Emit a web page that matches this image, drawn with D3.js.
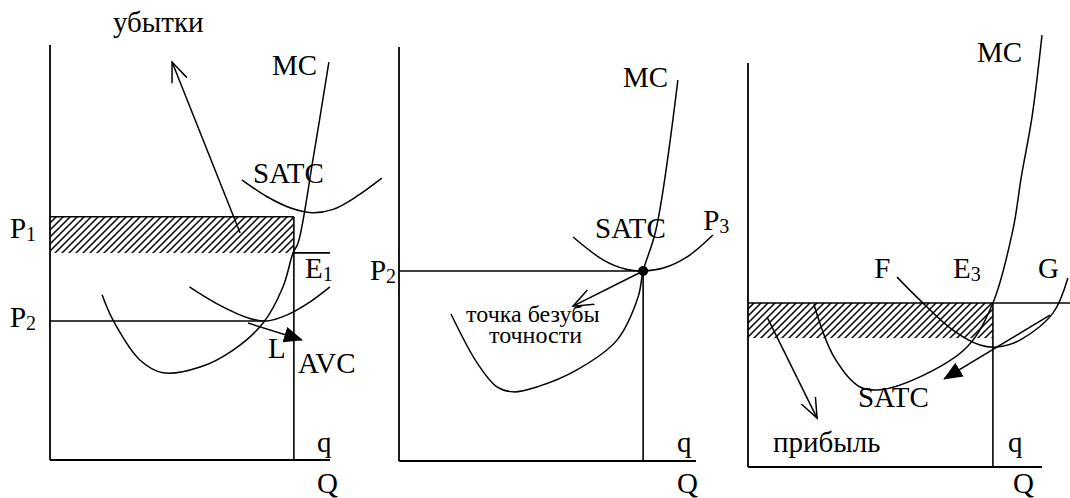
<!DOCTYPE html>
<html>
<head>
<meta charset="utf-8">
<script src="https://cdn.jsdelivr.net/npm/d3@7"></script>
<style>
  body { margin: 0; background: #fff; }
  svg { display: block; }
  text { font-family: "Liberation Serif", "Times New Roman", serif; font-size: 29px; fill: #000; }
  .sub { font-size: 20px; }
  .small { font-size: 24px; }
</style>
</head>
<body>
<svg width="1070" height="498"></svg>
<script>

  // DATA (units: q along x, price along y, 0..100 on each axis)

  // panel 1 - losses
  var p1MC = [[18.6, 39.8], [22.5, 33.7], [32.1, 24.1], [40.4, 21.0], [53.6, 22.4], [65.4, 26.5],
    [76.1, 33.0], [83.2, 41.7], [86.8, 49.9], [88.6, 52.3], [93.9, 72.3], [99.6, 95.9]];
  var p1SATC = [[68.5, 67.5], [77.4, 63.5], [85.7, 60.8], [93.5, 59.6], [101.1, 60.4], [109.5, 63.5], [118.5, 67.9]];
  var p1AVC = [[49.8, 41.7], [59.5, 37.7], [71.4, 34.1], [77.5, 33.5], [84.5, 34.9], [92.9, 38.1], [100, 41.7]];
  var p1Levels = { P1: 58.6, E1: 49.9, P2: 33.5, q: 87.1 };
  var p1LossArrow = [[67.9, 54.7], [43.6, 95.9]];
  var p1LArrow = [[70.7, 33.0], [90, 28.9]];

  // panel 2 - break-even
  var p2MC = [[17.5, 35.5], [26.3, 23.7], [33.0, 17.9], [38.4, 16.7], [46.5, 17.9], [59.9, 22.0],
    [73.4, 29.2], [80.5, 39.6], [82.2, 45.9], [86.5, 55.8], [93.9, 92.0]];
  var p2SATC = [[58.6, 54.1], [68.7, 48.6], [76.5, 46.3], [82.2, 45.9], [89.0, 46.6], [97.0, 49.3], [105.7, 54.6]];
  var p2Levels = { P2: 45.9, q: 82.2 };
  var p2Arrow = [[82.2, 45.9], [58.6, 37.4]];

  // panel 3 - profit
  var p3MC = [[22.4, 40.3], [29.3, 27.2], [38.1, 19.8], [44.9, 19.1], [58.5, 22.3], [74.5, 29.7],
    [83.3, 40.6], [90.1, 58.7], [93.0, 72.0], [96.6, 86.6], [100, 106.9]];
  var p3SATC = [[50.7, 47.0], [58.5, 41.3], [69.7, 33.9], [78.9, 30.2], [84.7, 29.7], [92.5, 31.4], [103.7, 38.1], [108.8, 46.8]];
  var p3Levels = { P: 40.6, low: 31.9, q: 83.3, right: 109.5 };
  var p3ProfitArrow = [[6.5, 37.1], [23.5, 12.1]];
  var p3SATCArrow = [[102.7, 37.6], [66.7, 21.8]];

  // labels: [text, subscript, x, y, class]
  var p1Labels = [["убытки", "", 22.5, 103.1], ["MC", "", 79.3, 92.8], ["SATC", "", 72.5, 66.7],
    ["P", "1", -14.3, 53.5], ["P", "2", -14.3, 32.0], ["E", "1", 91.1, 43.9], ["L", "", 77.9, 24.6],
    ["AVC", "", 88.6, 21.0], ["q", "", 95.4, 1.9], ["Q", "", 95.4, -7.9]];
  var p2Labels = [["MC", "", 75.4, 90.3], ["SATC", "", 66.0, 53.9], ["P", "3", 102.4, 55.8],
    ["P", "2", -9.8, 43.7], ["точка безубы", "", 22.6, 33.6, "small"], ["точности", "", 30.3, 28.5, "small"],
    ["q", "", 93.6, 2.2], ["Q", "", 93.6, -7.7]];
  var p3Labels = [["MC", "", 77.9, 100.2], ["F", "", 42.9, 46.8], ["E", "3", 69.7, 46.8], ["G", "", 98.6, 46.8],
    ["SATC", "", 37.4, 14.9], ["прибыль", "", 8.5, 3.7], ["q", "", 88.4, 3.7], ["Q", "", 90.1, -6.4]];

  // SETUP

  var svg = d3.select("svg");
  var defs = svg.append("defs");

  var hatch = defs.append("pattern")
    .attr("id", "hatch")
    .attr("patternUnits", "userSpaceOnUse")
    .attr("width", 7)
    .attr("height", 7);
  hatch.append("path")
    .attr("d", "M-1,8 L8,-1 M-4.5,4.5 L4.5,-4.5 M2.5,11.5 L11.5,2.5")
    .attr("stroke", "#000")
    .attr("stroke-width", 1.5);

  defs.append("marker")
    .attr("id", "open")
    .attr("viewBox", "0 -10 22 20")
    .attr("refX", 20).attr("refY", 0)
    .attr("markerWidth", 22).attr("markerHeight", 20)
    .attr("markerUnits", "userSpaceOnUse")
    .attr("orient", "auto")
    .append("path")
    .attr("d", "M0,-8 L20,0 L0,8")
    .attr("fill", "none")
    .attr("stroke", "#000")
    .attr("stroke-width", 1.5);

  defs.append("marker")
    .attr("id", "solid")
    .attr("viewBox", "0 -10 22 20")
    .attr("refX", 18).attr("refY", 0)
    .attr("markerWidth", 22).attr("markerHeight", 20)
    .attr("markerUnits", "userSpaceOnUse")
    .attr("orient", "auto")
    .append("path")
    .attr("d", "M0,-8 L19,0 L0,8 Z")
    .attr("fill", "#000");

  function makePanel(x0, x1, y0, y1) {
    return {
      x: d3.scaleLinear().domain([0, 100]).range([x0, x1]),
      y: d3.scaleLinear().domain([0, 100]).range([y0, y1])
    };
  }

  var panels = [makePanel(50, 330, 460, 45), makePanel(399, 696, 461, 47), makePanel(748, 1042, 467, 63)];

  // DRAWING

  function seg(g, p, a, b, w) {
    g.append("line")
      .attr("x1", p.x(a[0])).attr("y1", p.y(a[1]))
      .attr("x2", p.x(b[0])).attr("y2", p.y(b[1]))
      .attr("stroke", "#000")
      .attr("stroke-width", w || 1.6);
  }

  function curve(g, p, pts) {
    var line = d3.line()
      .x(function (d) { return p.x(d[0]); })
      .y(function (d) { return p.y(d[1]); })
      .curve(d3.curveCatmullRom.alpha(0.5));
    g.append("path")
      .attr("d", line(pts))
      .attr("fill", "none")
      .attr("stroke", "#000")
      .attr("stroke-width", 1.5);
  }

  function arrow(g, p, pts, kind) {
    g.append("line")
      .attr("x1", p.x(pts[0][0])).attr("y1", p.y(pts[0][1]))
      .attr("x2", p.x(pts[1][0])).attr("y2", p.y(pts[1][1]))
      .attr("stroke", "#000")
      .attr("stroke-width", 1.5)
      .attr("marker-end", "url(#" + kind + ")");
  }

  function labels(g, p, list) {
    list.forEach(function (d) {
      var t = g.append("text")
        .attr("x", p.x(d[2]))
        .attr("y", p.y(d[3]))
        .attr("class", d[4] || null);
      t.append("tspan").text(d[0]);
      if (d[1]) t.append("tspan").attr("class", "sub").attr("dy", 3).text(d[1]);
    });
  }

  function axes(g, p) {
    seg(g, p, [0, 0], [0, 100], 1.8);
    seg(g, p, [0, 0], [100, 0], 1.8);
  }

  // panel 1
  var g1 = svg.append("g"), a = panels[0], L1 = p1Levels;
  g1.append("rect")
    .attr("x", a.x(0)).attr("y", a.y(L1.P1))
    .attr("width", a.x(L1.q) - a.x(0))
    .attr("height", a.y(L1.E1) - a.y(L1.P1))
    .attr("fill", "url(#hatch)");
  axes(g1, a);
  seg(g1, a, [0, L1.P1], [L1.q, L1.P1]);
  seg(g1, a, [L1.q, L1.P1], [L1.q, 0]);
  seg(g1, a, [L1.q, L1.E1], [100, L1.E1]);
  seg(g1, a, [0, L1.P2], [76, L1.P2]);
  curve(g1, a, p1MC);
  curve(g1, a, p1SATC);
  curve(g1, a, p1AVC);
  arrow(g1, a, p1LossArrow, "open");
  arrow(g1, a, p1LArrow, "solid");
  labels(g1, a, p1Labels);

  // panel 2
  var g2 = svg.append("g"), b = panels[1], L2 = p2Levels;
  axes(g2, b);
  seg(g2, b, [0, L2.P2], [L2.q, L2.P2]);
  seg(g2, b, [L2.q, L2.P2], [L2.q, 0]);
  curve(g2, b, p2MC);
  curve(g2, b, p2SATC);
  arrow(g2, b, p2Arrow, "open");
  g2.append("circle")
    .attr("cx", b.x(L2.q)).attr("cy", b.y(L2.P2))
    .attr("r", 5);
  labels(g2, b, p2Labels);

  // panel 3
  var g3 = svg.append("g"), c = panels[2], L3 = p3Levels;
  g3.append("rect")
    .attr("x", c.x(0)).attr("y", c.y(L3.P))
    .attr("width", c.x(L3.q) - c.x(0))
    .attr("height", c.y(L3.low) - c.y(L3.P))
    .attr("fill", "url(#hatch)");
  axes(g3, c);
  seg(g3, c, [0, L3.P], [L3.right, L3.P]);
  seg(g3, c, [L3.q, L3.P], [L3.q, 0]);
  curve(g3, c, p3MC);
  curve(g3, c, p3SATC);
  arrow(g3, c, p3ProfitArrow, "open");
  arrow(g3, c, p3SATCArrow, "solid");
  labels(g3, c, p3Labels);

</script>
</body>
</html>
